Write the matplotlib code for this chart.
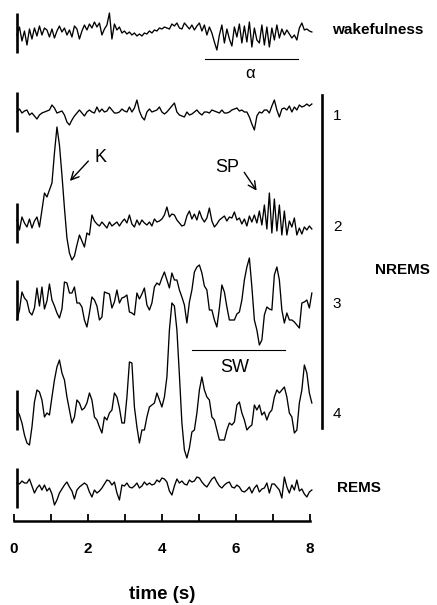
import numpy as np
import matplotlib
matplotlib.use('Agg')
import matplotlib.pyplot as plt

plt.rcParams['font.family'] = ['Liberation Sans', 'DejaVu Sans']

# EEG traces, amplitude (arbitrary units, positive = up)
wake = [-2, 6, -8, 2, -12, 4, -6, 5, -3, 7, -2, 5, 3, -4, 4, -5, 2, 7, 1, 5,
        -2, 3, -4, 7, 4, -6, 2, 8, 3, 9, 5, 11, 6, 10, -2, 4, 8, 20, -6, 9,
        3, 6, 0, 2, -1, 1, -2, 0, -3, -1, -3, 0, -1, 2, 0, 3, 2, 5, 4, 6,
        5, 4, 9, 7, 10, 5, 4, 10, 7, 4, 8, 3, 7, 10, 2, 8, -2, 6, 0, -9,
        -17, -2, 8, -10, 4, -6, -13, 6, -4, 9, -10, 7, -9, 11, -14, 5, -7, -10, 8, -12,
        6, -14, 5, -7, 8, -5, 4, -2, 3, -1, -5, -2, -7, 5, 10, 3, 4, 2, 1]

stage1 = [0, 3, -1, 1, 2, -3, -1, -4, -7, -3, -1, 0, 1, 2, 7, 4, -1, 0, 1, -3,
          -10, -13, -8, -4, -1, 2, -1, -4, 0, 2, 0, -1, 5, 0, 3, 0, 1, 5, 2, -1,
          -1, 0, 3, 1, 0, 5, 0, 4, 12, 1, -5, -8, 0, 3, 0, 1, 2, 5, 0, -2,
          0, 3, 6, 9, 0, -3, -4, -5, 0, -3, -2, 0, 2, -1, -3, 0, 0, -1, 2, 1,
          0, -1, 2, -1, -1, 0, 2, 3, 4, 1, 2, 0, 0, -5, -12, -18, -4, 0, -1, 2,
          2, -1, 6, 12, 2, -5, 3, 4, 2, 6, 0, 5, 2, 7, 5, 6, 8, 6, 8]

stage2 = [3, -7, 6, 0, -4, 4, -5, 2, 6, -4, 13, 30, 26, 33, 40, 70, 96, 78, 48, 15,
          -15, -30, -37, -33, -22, -12, -18, -24, -10, -12, 8, 2, -1, -3, 1, -2, -5, 1, -3, -1,
          1, -3, 1, 4, 0, 8, -1, -4, 3, -2, 3, 0, -2, 1, -3, 4, 1, 2, 4, 8,
          16, 6, 9, 8, 3, 0, -3, -2, 7, 12, 4, 9, 3, 12, 5, 1, 5, 15, 2, -4,
          -1, 3, 5, 7, 2, 6, 5, 11, 3, 5, -1, 4, -3, 7, 1, 8, 0, 12, -2, 18,
          -6, 30, -10, 24, -8, 18, -12, 12, -12, 2, -4, 5, -12, -5, -11, -4, -7, -3, -6]

stage3 = [-20, -10, 8, 2, -1, -12, -15, -8, 12, -6, 13, -9, -1, 16, 0, -6, -13, -18, -9, 18,
          17, 7, 7, 13, -3, -3, -7, -20, -27, -13, 3, 0, -6, -20, -17, 8, 7, 6, -8, -2,
          10, -3, 2, 3, 5, -12, -13, -15, 7, 1, 6, 12, -5, -10, -3, 13, 17, 15, 22, 28,
          20, 12, 27, 20, 20, 10, 3, -5, -23, -2, 10, 28, 33, 35, 27, 14, 10, -10, -10, -20,
          -27, -8, 15, 8, -7, -20, -20, -20, -14, -12, 0, 20, 33, 42, 13, -20, -30, -45, -40, -15,
          -7, -9, -10, 25, 33, 20, -10, -23, -13, -20, -20, -22, -25, -28, -3, -2, 0, -8, 7]

stage4 = [0, -5, -13, -25, -33, -35, -17, 8, 20, 18, 10, -7, -3, -5, 13, 30, 43, 50, 37, 30,
          13, 0, -13, -7, 10, 7, 0, 2, 7, 17, 10, -7, -10, -17, -23, -7, -10, -3, 0, 17,
          13, 2, -13, -13, 13, 48, 47, 3, -17, -33, -20, -20, -7, 3, 5, 7, 17, 10, 3, 13,
          33, 80, 107, 104, 80, 35, -13, -40, -48, -38, -22, -20, -3, 20, 33, 20, 13, 10, -7, -10,
          -20, -30, -30, -30, -20, -13, -15, -12, 5, 8, -3, -10, -20, -17, -15, 5, 0, 5, -5, -2,
          -10, -3, 0, 13, 20, 17, 20, 23, 13, -3, -7, -23, -20, 7, 20, 45, 37, 17, 7]

rems = [5, 4, 7, 5, 5, 9, 2, -5, 0, 3, -2, 3, -3, 0, -6, -17, -12, -5, -1, 3,
        6, 1, -3, -11, -2, 1, 3, 5, 3, -4, -9, -2, -5, -3, 0, 4, 8, 7, 3, 6,
        -5, -12, 3, 2, 5, 1, 0, 2, 5, 0, 2, 6, 3, 5, 3, 4, 8, 6, 10, 9,
        6, -3, -7, 2, 9, 5, 7, 4, 3, 8, 6, 7, 11, 10, 6, 3, 1, 5, 9, 11,
        6, 2, 0, 3, 5, 6, 1, 0, 3, 1, -3, -4, -2, 1, -5, 0, 3, -4, -1, 0,
        5, -5, 4, 4, 1, -2, -10, 11, 1, -5, 3, -2, 8, -3, -1, -6, -9, -4, -2]

traces = [wake, stage1, stage2, stage3, stage4, rems]
stage_labels = ['', '1', '2', '3', '4', '']
ticks = [0, 1, 2, 3, 4, 5, 6, 7, 8]
tick_labels = ['0', '', '2', '', '4', '', '6', '', '8']

# vertical position of each trace (axes units run top -> bottom)
offsets = [33, 112, 223, 300, 410, 488]

fig = plt.figure(figsize=(4.37, 6.05), dpi=100)
ax = fig.add_axes([14 / 437, 84 / 605, 296 / 437, 521 / 605])
ax.set_xlim(0, 8)
ax.set_ylim(521, 0)

for vals, off, lab in zip(traces, offsets, stage_labels):
    v = np.array(vals, dtype=float)
    t = np.linspace(0.08, 8.05, len(v))
    ax.plot(t, off - v, color='black', lw=0.95, clip_on=False)
    # calibration bar at the start of each trace
    ax.plot([0.07, 0.07], [off - 20, off + 20], color='black', lw=1.9,
            solid_capstyle='butt', clip_on=False)
    if lab:
        ax.text(8.62, off + 4, lab, fontsize=11, va='center', ha='left')

# bracket for NREMS stages
ax.plot([8.32, 8.32], [95, 428], color='black', lw=1.9, clip_on=False)

ax.text(8.6, 30, 'wakefulness', fontsize=11, fontweight='bold', va='center', ha='left', clip_on=False)
ax.text(9.75, 270, 'NREMS', fontsize=11, fontweight='bold', va='center', ha='left', clip_on=False)
ax.text(8.72, 488, 'REMS', fontsize=11, fontweight='bold', va='center', ha='left', clip_on=False)

# alpha and slow-wave markers
ax.plot([5.16, 7.68], [59, 59], color='black', lw=0.8)
ax.text(6.38, 73, 'α', fontsize=12, ha='center', va='center')
ax.plot([4.81, 7.32], [350, 350], color='black', lw=0.8)
ax.text(5.97, 368, 'SW', fontsize=13, ha='center', va='center')

# K-complex and spindle arrows
ax.annotate('', xy=(1.46, 183), xytext=(2.06, 159),
            arrowprops=dict(arrowstyle='->', lw=1.0, color='black', mutation_scale=14))
ax.text(2.33, 157, 'K', fontsize=13, ha='center', va='center')
ax.annotate('', xy=(6.6, 193), xytext=(6.18, 170),
            arrowprops=dict(arrowstyle='->', lw=1.0, color='black', mutation_scale=14))
ax.text(5.77, 168, 'SP', fontsize=13, ha='center', va='center')

# time axis
for side in ['top', 'left', 'right']:
    ax.spines[side].set_visible(False)
ax.spines['bottom'].set_linewidth(1.8)
ax.set_yticks([])
ax.set_xticks(ticks)
ax.set_xticklabels(tick_labels, fontsize=11, fontweight='bold')
ax.tick_params(axis='x', direction='in', length=5, width=1.3, pad=15)
ax.set_xlabel('time (s)', fontsize=13.5, fontweight='bold', labelpad=22)
ax.patch.set_alpha(0)

plt.savefig('out.png', dpi=100)
